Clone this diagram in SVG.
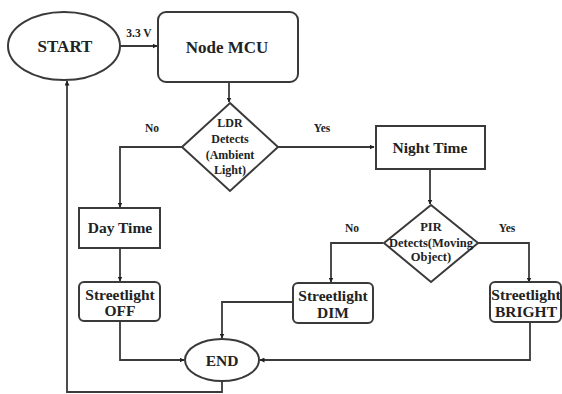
<svg xmlns="http://www.w3.org/2000/svg" width="562" height="394" viewBox="0 0 562 394" font-family="'Liberation Serif', 'DejaVu Serif', serif" font-weight="bold">
<style>
.s{fill:#fff;stroke:#3a3a3a;stroke-width:2}
.c{fill:none;stroke:#3a3a3a;stroke-width:1.8}
text{fill:#222;text-anchor:middle}
.t{font-size:17px}
.m{font-size:15.5px}
.d{font-size:12px}
.p{font-size:12.5px}
.l{font-size:11.5px}
</style>
<defs>
<marker id="a" viewBox="0 0 10 10" refX="9" refY="5" markerWidth="5" markerHeight="5" orient="auto" markerUnits="userSpaceOnUse">
<path d="M0,0L10,5L0,10z" fill="#222"/>
</marker>
</defs>
<rect width="562" height="394" fill="#fff"/>
<g id="connectors">
<path class="c" d="M121,46H157" marker-end="url(#a)"/>
<path class="c" d="M229,82V102" marker-end="url(#a)"/>
<path class="c" d="M278,147H374" marker-end="url(#a)"/>
<path class="c" d="M182,147H120V207" marker-end="url(#a)"/>
<path class="c" d="M120,248V281" marker-end="url(#a)"/>
<path class="c" d="M430,169V204" marker-end="url(#a)"/>
<path class="c" d="M383,243H331V282" marker-end="url(#a)"/>
<path class="c" d="M478,243H529V282" marker-end="url(#a)"/>
<path class="c" d="M120,321V360H184" marker-end="url(#a)"/>
<path class="c" d="M293,302H222V338" marker-end="url(#a)"/>
<path class="c" d="M530,322V360H260" marker-end="url(#a)"/>
<path class="c" d="M222,381V392H67V81" marker-end="url(#a)"/>
<text class="l" x="139" y="37">3.3 V</text>
<text class="l" x="152" y="132">No</text>
<text class="l" x="322" y="132">Yes</text>
<text class="l" x="352" y="232">No</text>
<text class="l" x="507" y="232">Yes</text>
</g>
<g id="start">
<ellipse class="s" cx="64" cy="46" rx="56" ry="34"/>
<text class="t" x="65" y="52">START</text>
</g>
<g id="nodemcu">
<rect class="s" x="158" y="12" width="140" height="70" rx="8"/>
<text class="t" x="227" y="53">Node MCU</text>
</g>
<g id="ldr">
<path class="s" d="M230,103L278,147L230,191L182,147z"/>
<text class="d" x="230" y="127">LDR</text>
<text class="d" x="230" y="143">Detects</text>
<text class="d" x="230" y="159">(Ambient</text>
<text class="d" x="230" y="174">Light)</text>
</g>
<g id="nighttime">
<rect class="s" x="376" y="126" width="109" height="43"/>
<text class="m" x="430" y="153">Night Time</text>
</g>
<g id="daytime">
<rect class="s" x="79" y="208" width="81" height="40"/>
<text class="m" x="120" y="233">Day Time</text>
</g>
<g id="pir">
<path class="s" d="M431,205L478,243L431,282L384,243z"/>
<text class="p" x="431" y="231">PIR</text>
<text class="p" x="431" y="247">Detects(Moving</text>
<text class="p" x="431" y="261">Object)</text>
</g>
<g id="off">
<rect class="s" x="79" y="282" width="81" height="39" rx="5"/>
<text class="m" x="120" y="300">Streetlight</text>
<text class="m" x="120" y="316">OFF</text>
</g>
<g id="dim">
<rect class="s" x="293" y="283" width="80" height="40" rx="5"/>
<text class="m" x="333" y="301">Streetlight</text>
<text class="m" x="333" y="318">DIM</text>
</g>
<g id="bright">
<rect class="s" x="490" y="282" width="71" height="40" rx="5"/>
<text class="m" x="526" y="300">Streetlight</text>
<text class="m" x="526" y="317">BRIGHT</text>
</g>
<g id="end">
<ellipse class="s" cx="222" cy="360" rx="37" ry="21"/>
<text class="m" x="222" y="366">END</text>
</g>
</svg>
